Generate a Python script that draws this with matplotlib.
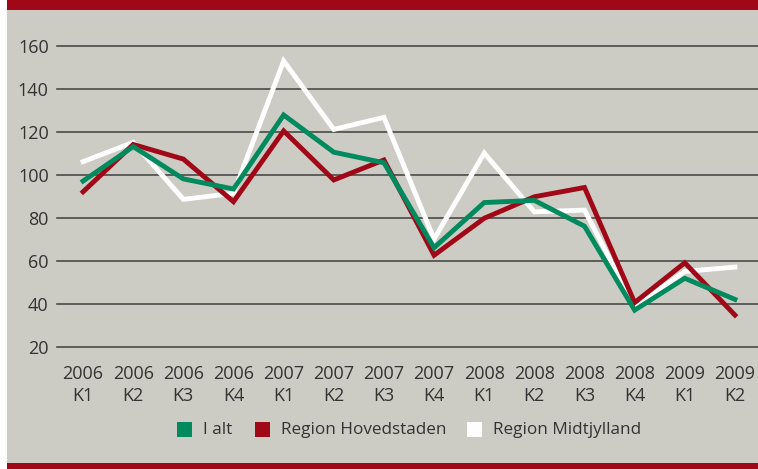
import matplotlib
matplotlib.use("Agg")
import matplotlib.pyplot as plt
from matplotlib.patches import Rectangle

periods = ["2006\nK1", "2006\nK2", "2006\nK3", "2006\nK4",
           "2007\nK1", "2007\nK2", "2007\nK3", "2007\nK4",
           "2008\nK1", "2008\nK2", "2008\nK3", "2008\nK4",
           "2009\nK1", "2009\nK2"]
i_alt = [97, 113, 98, 93.3, 127.7, 110.4, 105.5, 66, 87, 88, 76, 37, 51.8, 42]
hovedstaden = [92, 114, 107.2, 87.4, 120.3, 97.5, 106.8, 62.5, 79.7, 89.7, 94, 40.5, 59, 34.7]
midtjylland = [106, 115, 88.5, 91.3, 152.8, 121, 126.6, 70, 110, 82.7, 83.5, 38.5, 55, 57]
yticks = [20, 40, 60, 80, 100, 120, 140, 160]

BG = "#CCCBC4"
RED = "#A00818"
GREEN = "#008A5E"
WHITE = "#FFFFFF"
TXT = "#333333"
FONT = ["Open Sans", "DejaVu Sans"]
plt.rcParams['font.family'] = FONT

W, H = 758, 469
fig = plt.figure(figsize=(W / 100, H / 100), dpi=100)
fig.patch.set_facecolor("white")

def fx(px): return px / W
def fy(py): return 1 - py / H

fig.patches.append(Rectangle((fx(7), 0), 1 - fx(7), 1, transform=fig.transFigure,
                             facecolor=BG, edgecolor="none", zorder=-10))
fig.patches.append(Rectangle((fx(7), fy(10)), 1 - fx(7), 10 / H, transform=fig.transFigure,
                             facecolor=RED, edgecolor="none", zorder=-9))
fig.patches.append(Rectangle((fx(7), 0), 1 - fx(7), 6.5 / H, transform=fig.transFigure,
                             facecolor=RED, edgecolor="none", zorder=-9))

top_px, bot_px = 45.5, 346.7
ax = fig.add_axes([fx(57), fy(bot_px), fx(758) - fx(57), (bot_px - top_px) / H])
ax.set_facecolor("none")
ax.set_ylim(20, 160)
ax.set_xlim(-0.52, 13.46)
x = list(range(len(periods)))

for yv in yticks:
    ax.axhline(yv, color="#4a4a4a", lw=1.2, zorder=1, clip_on=False)

ax.plot(x, midtjylland, color=WHITE, lw=3.5, zorder=3, clip_on=False, solid_joinstyle="miter")
ax.plot(x, hovedstaden, color=RED, lw=3.5, zorder=4, clip_on=False, solid_joinstyle="miter")
ax.plot(x, i_alt, color=GREEN, lw=3.5, zorder=5, clip_on=False, solid_joinstyle="miter")

for s in ax.spines.values():
    s.set_visible(False)
ax.set_yticks(yticks)
ax.set_yticklabels([str(v) for v in yticks], fontsize=13, color=TXT)
ax.tick_params(axis="y", length=0, pad=6)
ax.set_xticks(x)
ax.set_xticklabels(periods, fontsize=13, color=TXT, linespacing=1.27)
ax.tick_params(axis="x", length=0, pad=13)

items = [("I alt", GREEN, 177), ("Region Hovedstaden", RED, 255), ("Region Midtjylland", WHITE, 467)]
for label, col, px in items:
    fig.patches.append(Rectangle((fx(px), fy(437)), 15 / W, 15 / H, transform=fig.transFigure,
                                 facecolor=col, edgecolor="none"))
    fig.text(fx(px + 26), fy(430), label, fontsize=12.3, color=TXT, va="center", ha="left")

fig.savefig("out.png", dpi=100, facecolor=fig.get_facecolor())
